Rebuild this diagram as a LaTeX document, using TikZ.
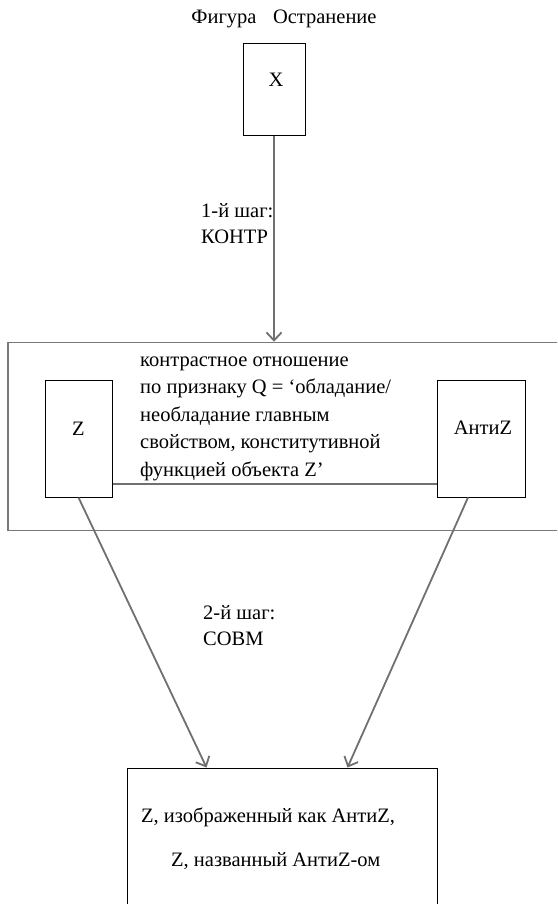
\documentclass[tikz,border=0pt]{standalone}
\usepackage{fontspec}
\setmainfont{Liberation Serif}
\usetikzlibrary{arrows.meta}
\definecolor{arrgray}{RGB}{112,112,112}
\definecolor{framegray}{RGB}{120,120,120}
\tikzset{
  box/.style={draw=black, line width=1pt, inner sep=0pt},
  conn/.style={draw=arrgray, line width=1.8pt, -{Straight Barb[length=8pt,width=15pt,line width=1.8pt]}},
  plain/.style={draw=arrgray, line width=1.5pt},
  txt/.style={font=\fontsize{20.5}{27.5}\selectfont, inner sep=0pt, align=left},
  steptxt/.style={font=\fontsize{20.5}{26}\selectfont, inner sep=0pt, align=left}
}
\begin{document}
\begin{tikzpicture}[x=1pt,y=-1pt]
\useasboundingbox (0,0) rectangle (557,904);
\clip (0,0) rectangle (557,904);
\fill[white] (0,0) rectangle (557,904);
% title
\node[txt, anchor=base] (title) at (284,24) {Фигура\hspace{0.8em}Остранение};
% X box
\node[box, minimum width=62pt, minimum height=92pt] (X) at (274,90) {};
\node[txt, anchor=base] (Xt) at (276,87) {X};
% frame
\node[draw=framegray, line width=1.5pt, minimum width=567pt, minimum height=188pt, inner sep=0pt] (frame) at (291.5,436.5) {};
% Z box
\node[box, minimum width=67pt, minimum height=117pt] (Z) at (78.5,438.5) {};
\node[txt, anchor=base] (Zt) at (78.5,435) {Z};
% AntiZ box
\node[box, minimum width=88pt, minimum height=117pt] (AZ) at (481,438.5) {};
\node[txt, anchor=base] (AZt) at (483,434) {АнтиZ};
% relation line
\draw[plain] (Z.east |- 0,484) coordinate (l1) -- (AZ.west |- 0,484) coordinate (l2);
% relation text (anchor at baseline of last line)
\node[txt, anchor=base west] (rel) at (140,476) {контрастное отношение\\по признаку Q = ‘обладание/\\необладание главным\\свойством, конститутивной\\функцией объекта Z’};
% bottom box
\node[box, minimum width=310pt, minimum height=200pt] (B) at (282,868) {};
\node[txt, anchor=base west] (B1) at (141,822) {Z, изображенный как АнтиZ,};
\node[txt, anchor=base west] (B2) at (171,866) {Z, названный АнтиZ-ом};
% step labels (anchor at baseline of last line)
\node[steptxt, anchor=base west] (s1) at (201,243) {1-й шаг:\\КОНТР};
\node[steptxt, anchor=base west] (s2) at (203,645) {2-й шаг:\\СОВМ};
% arrows
\draw[conn] (X.south) -- (X.south |- frame.north);
\draw[conn] (Z.south) -- ([xshift=80pt]B.north west);
\draw[conn] ([xshift=-13pt]AZ.south) -- ([xshift=221pt]B.north west);
\end{tikzpicture}
\end{document}
